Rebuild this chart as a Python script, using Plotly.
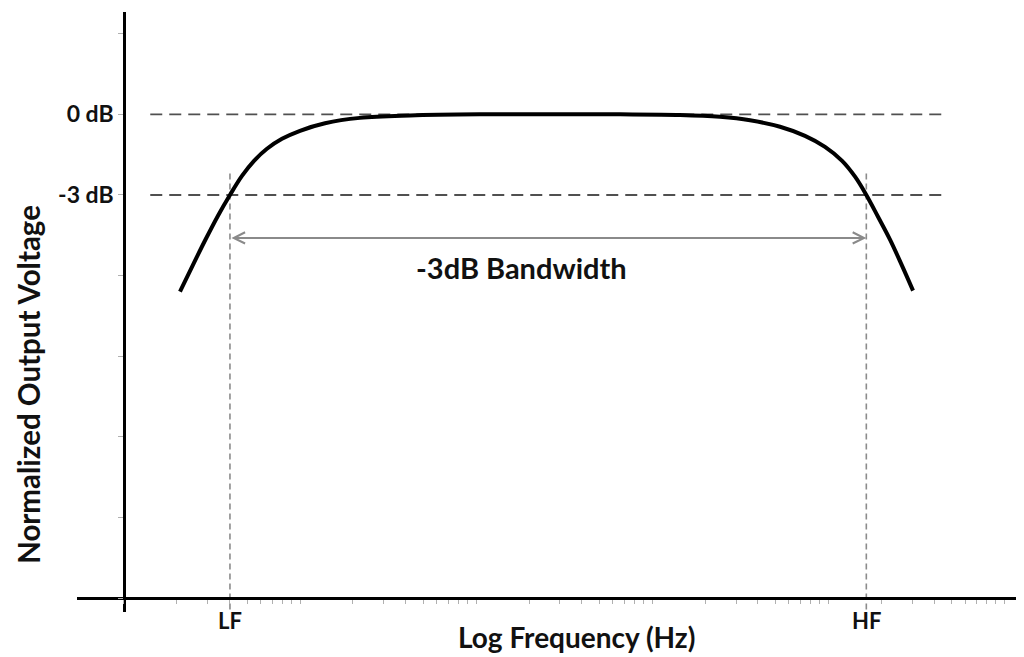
import numpy as np
import plotly.graph_objects as go

# Frequency response, Hz and dB
freq_hz = [2.08, 2.47, 2.92, 3.42, 4.0, 4.68, 5.48, 6.49, 7.9, 10.0, 13.87, 21.9, 42.2,
           105, 300, 658, 1443, 2433, 3604, 5336, 7398, 9610, 12020, 14240, 16500,
           19230, 22500, 26320, 30400]
gain_db = [-6.6, -5.59, -4.63, -3.77, -3.0, -2.29, -1.73, -1.28, -0.91, -0.61, -0.33, -0.13, -0.04,
           0.0, 0.0, 0.0, -0.02, -0.09, -0.22, -0.46, -0.8, -1.21, -1.73, -2.32, -3.0,
           -3.81, -4.66, -5.63, -6.56]

# Marked frequencies / levels
lf_hz = 4.0
hf_hz = 16500
ref_levels_db = [0, -3]
ref_labels = ['0 dB', '-3 dB']
guide_start_hz = 1.41
guide_end_hz = 44400
cutoff_top_db = -2.2
cutoff_bottom_db = -18.5
bandwidth_db = -4.6
bw_label_hz = 182
bw_label_db = -5.71

y_ticks = [3, 0, -3, -6, -9, -12, -15, -18]
x_ticks = [k * 10 ** n for n in range(5) for k in range(1, 10)] + [1e5]

FONT = 'Lato'
TXT = '#111111'

fig = go.Figure()

# horizontal dashed reference lines at 0 dB and -3 dB
for lvl in ref_levels_db:
    fig.add_trace(go.Scatter(
        x=[guide_start_hz, guide_end_hz], y=[lvl, lvl], mode='lines',
        line=dict(color='#505050', width=1.8, dash='12px,7px'),
        hoverinfo='skip', showlegend=False))

# vertical dashed lines at LF / HF
for f in [lf_hz, hf_hz]:
    fig.add_trace(go.Scatter(
        x=[f, f], y=[cutoff_top_db, cutoff_bottom_db], mode='lines',
        line=dict(color='#8c8c8c', width=1.6, dash='6px,4px'),
        hoverinfo='skip', showlegend=False))

# response curve
fig.add_trace(go.Scatter(
    x=freq_hz, y=gain_db, mode='lines',
    line=dict(color='black', width=4, shape='spline', smoothing=1.0),
    hoverinfo='skip', showlegend=False))

annotations = [
    # bandwidth arrow (annotation coords on log axis are log10)
    dict(x=np.log10(hf_hz), y=bandwidth_db, ax=np.log10(lf_hz), ay=bandwidth_db,
         xref='x', yref='y', axref='x', ayref='y', text='', showarrow=True,
         arrowhead=5, startarrowhead=5, arrowside='end+start', arrowsize=1.1,
         startarrowsize=1.1, arrowwidth=2, arrowcolor='#8a8a8a'),
    dict(x=np.log10(bw_label_hz), y=bw_label_db, xref='x', yref='y',
         text='-3dB Bandwidth', showarrow=False,
         font=dict(family=FONT, size=29, color=TXT, weight='bold')),
    dict(x=np.log10(lf_hz), y=0, xref='x', yref='paper', yanchor='top', yshift=7,
         text='LF', showarrow=False,
         font=dict(family=FONT, size=22, color=TXT, weight='bold')),
    dict(x=np.log10(hf_hz), y=0, xref='x', yref='paper', yanchor='top', yshift=7,
         text='HF', showarrow=False,
         font=dict(family=FONT, size=22, color=TXT, weight='bold')),
    dict(x=0.529, y=0, xref='paper', yref='paper', xanchor='center', yanchor='top', yshift=-6,
         text='Log Frequency (Hz)', showarrow=False,
         font=dict(family=FONT, size=28, color=TXT, weight='bold')),
    dict(x=-0.052, y=0.38, xref='paper', yref='paper', xanchor='center', yanchor='middle',
         textangle=-90, text='Normalized Output Voltage', showarrow=False,
         font=dict(family=FONT, size=29.5, color=TXT, weight='bold')),
]

# the page body adds an 8px offset, so margins are shifted to compensate
fig.update_layout(
    width=1024, height=657,
    margin=dict(l=69, r=10, t=4, b=53),
    plot_bgcolor='white', paper_bgcolor='white',
    showlegend=False,
    xaxis=dict(type='log', range=[-0.267, 5.102], anchor='free', position=0.0233,
               showline=True, linecolor='black', linewidth=2.5, showgrid=False,
               zeroline=False, ticks='outside', ticklen=4, tickwidth=1, tickcolor='#b0b0b0',
               tickvals=x_ticks, ticktext=[''] * len(x_ticks)),
    yaxis=dict(range=[-18.52, 3.81], anchor='free', position=0.0497,
               showline=True, linecolor='black', linewidth=2.5, showgrid=False,
               zeroline=False, ticks='outside', ticklen=5, tickwidth=1, tickcolor='#b0b0b0',
               tickvals=y_ticks,
               ticktext=[ref_labels[ref_levels_db.index(v)] if v in ref_levels_db else '' for v in y_ticks],
               tickfont=dict(family=FONT, size=23, color=TXT, weight='bold')),
    annotations=annotations,
)

fig.write_html("out.html")
